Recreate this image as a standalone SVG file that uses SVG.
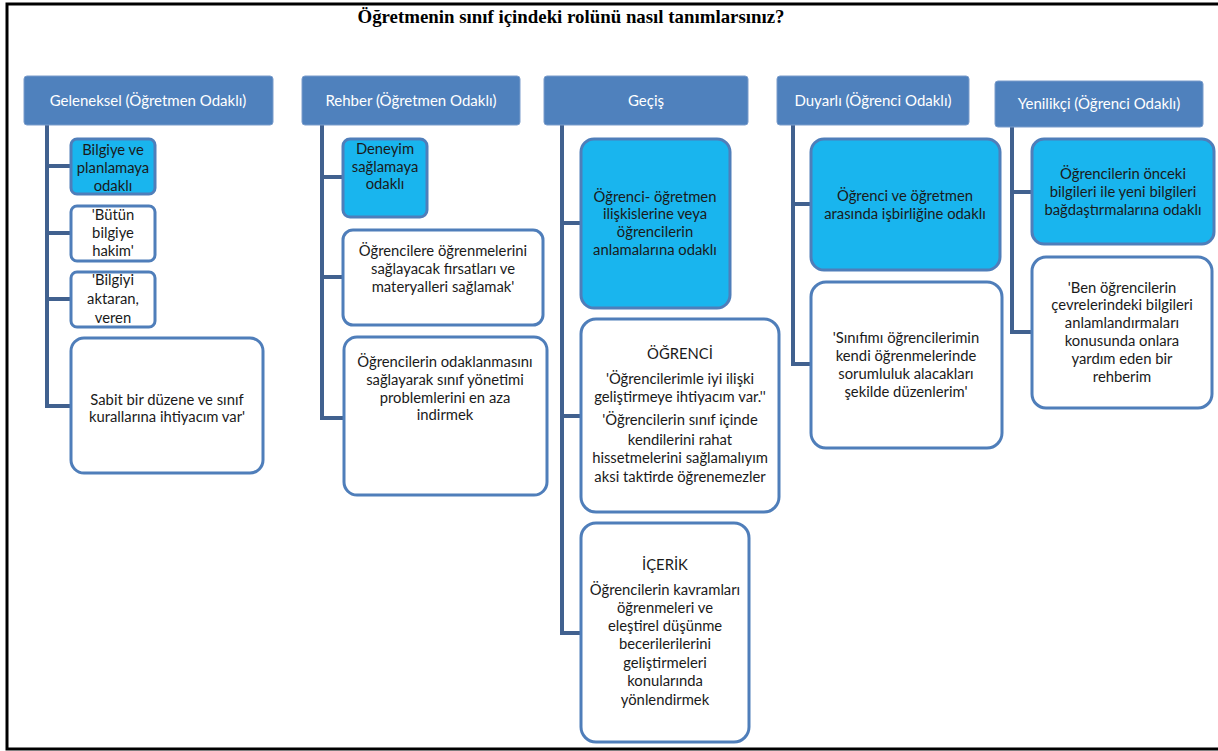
<svg xmlns="http://www.w3.org/2000/svg" width="1218" height="751" viewBox="0 0 1218 751">
<style>
.hdr{fill:#4F81BD;stroke:#7A9CCB;stroke-width:1}
.ht{font-family:Lato,"Liberation Sans",sans-serif;font-size:15px;fill:#fff;text-anchor:middle}
.cy{fill:#19B5EE;stroke:#4F7EBA;stroke-width:3}
.wb{fill:#fff;stroke:#4F7EBA;stroke-width:3}
.t{font-family:Lato,"Liberation Sans",sans-serif;font-size:14.8px;fill:#1a1a1a;text-anchor:middle}
.con{fill:none;stroke:#41618F;stroke-width:4;stroke-linejoin:miter}
</style>
<rect width="1218" height="751" fill="#fff"/>
<path d="M1218 4 H7 V749 H1218" fill="none" stroke="#000" stroke-width="3"/>
<text x="571" y="23" font-family="'Liberation Serif',serif" font-weight="bold" font-size="19" text-anchor="middle" fill="#000" textLength="427" lengthAdjust="spacingAndGlyphs">Öğretmenin sınıf içindeki rolünü nasıl tanımlarsınız?</text>

<g id="connectors">
<path class="con" d="M47 125 V406 H71 M47 166 H71 M47 233 H71 M47 299 H71"/>
<path class="con" d="M322 125 V418 H344 M322 177 H343 M322 277 H343"/>
<path class="con" d="M562 125 V633 H581 M562 223 H581 M562 416 H581"/>
<path class="con" d="M793 125 V364 H811 M793 204 H811"/>
<path class="con" d="M1012 127 V332 H1032 M1012 192 H1032"/>
</g>

<g id="h1"><rect class="hdr" x="24" y="76" width="249" height="49" rx="3"/><text class="ht" x="148" y="106">Geleneksel (Öğretmen Odaklı)</text></g>
<g id="h2"><rect class="hdr" x="302" y="76" width="218" height="49" rx="3"/><text class="ht" x="411" y="106">Rehber (Öğretmen Odaklı)</text></g>
<g id="h3"><rect class="hdr" x="544" y="76" width="204" height="49" rx="3"/><text class="ht" x="646" y="106">Geçiş</text></g>
<g id="h4"><rect class="hdr" x="777" y="76" width="192" height="49" rx="3"/><text class="ht" x="873" y="106">Duyarlı (Öğrenci Odaklı)</text></g>
<g id="h5"><rect class="hdr" x="995" y="81" width="208" height="46" rx="3"/><text class="ht" x="1099" y="109">Yenilikçi (Öğrenci Odaklı)</text></g>

<g id="c1a"><rect class="cy" x="71" y="139" width="84" height="55" rx="6"/><text class="t"><tspan x="113" y="155">Bilgiye ve</tspan><tspan x="113" y="173">planlamaya</tspan><tspan x="113" y="191">odaklı</tspan></text></g>
<g id="c1b"><rect class="wb" x="71" y="206" width="84" height="55" rx="6"/><text class="t"><tspan x="113" y="220">'Bütün</tspan><tspan x="113" y="238">bilgiye</tspan><tspan x="113" y="256">hakim'</tspan></text></g>
<g id="c1c"><rect class="wb" x="71" y="272" width="84" height="55" rx="6"/><text class="t"><tspan x="113" y="285">'Bilgiyi</tspan><tspan x="113" y="304">aktaran,</tspan><tspan x="113" y="323">veren</tspan></text></g>
<g id="c1d"><rect class="wb" x="71" y="338" width="192" height="135" rx="13"/><text class="t"><tspan x="167" y="405">Sabit bir düzene ve sınıf</tspan><tspan x="167" y="422">kurallarına ihtiyacım var'</tspan></text></g>

<g id="c2a"><rect class="cy" x="343" y="139" width="84" height="78" rx="7"/><text class="t"><tspan x="385" y="154">Deneyim</tspan><tspan x="385" y="172">sağlamaya</tspan><tspan x="385" y="189">odaklı</tspan></text></g>
<g id="c2b"><rect class="wb" x="343" y="230" width="200" height="95" rx="10"/><text class="t"><tspan x="443" y="256">Öğrencilere öğrenmelerini</tspan><tspan x="443" y="274">sağlayacak fırsatları ve</tspan><tspan x="443" y="292">materyalleri sağlamak'</tspan></text></g>
<g id="c2c"><rect class="wb" x="344" y="337" width="203" height="158" rx="13"/><text class="t"><tspan x="445" y="367">Öğrencilerin odaklanmasını</tspan><tspan x="445" y="385">sağlayarak sınıf yönetimi</tspan><tspan x="445" y="403">problemlerini en aza</tspan><tspan x="445" y="420">indirmek</tspan></text></g>

<g id="c3a"><rect class="cy" x="581" y="139" width="149" height="169" rx="13"/><text class="t"><tspan x="655" y="202">Öğrenci- öğretmen</tspan><tspan x="655" y="219">ilişkislerine veya</tspan><tspan x="655" y="237">öğrencilerin</tspan><tspan x="655" y="255">anlamalarına odaklı</tspan></text></g>
<g id="c3b"><rect class="wb" x="581" y="319" width="198" height="193" rx="15"/><text class="t"><tspan x="680" y="359">ÖĞRENCİ</tspan><tspan x="680" y="384">'Öğrencilerimle iyi ilişki</tspan><tspan x="680" y="402">geliştirmeye ihtiyacım var.''</tspan><tspan x="680" y="425">'Öğrencilerin sınıf içinde</tspan><tspan x="680" y="445">kendilerini rahat</tspan><tspan x="680" y="463">hissetmelerini sağlamalıyım</tspan><tspan x="680" y="482">aksi taktirde öğrenemezler</tspan></text></g>
<g id="c3c"><rect class="wb" x="581" y="523" width="168" height="219" rx="15"/><text class="t"><tspan x="665" y="570">İÇERİK</tspan><tspan x="665" y="595">Öğrencilerin kavramları</tspan><tspan x="665" y="613">öğrenmeleri ve</tspan><tspan x="665" y="631">eleştirel düşünme</tspan><tspan x="665" y="649">becerilerilerini</tspan><tspan x="665" y="668">geliştirmeleri</tspan><tspan x="665" y="686">konularında</tspan><tspan x="665" y="705">yönlendirmek</tspan></text></g>

<g id="c4a"><rect class="cy" x="811" y="139" width="189" height="131" rx="13"/><text class="t"><tspan x="905" y="201">Öğrenci ve öğretmen</tspan><tspan x="905" y="219">arasında işbirliğine odaklı</tspan></text></g>
<g id="c4b"><rect class="wb" x="811" y="282" width="191" height="166" rx="15"/><text class="t"><tspan x="906" y="343">'Sınıfımı öğrencilerimin</tspan><tspan x="906" y="361">kendi öğrenmelerinde</tspan><tspan x="906" y="379">sorumluluk alacakları</tspan><tspan x="906" y="397">şekilde düzenlerim'</tspan></text></g>

<g id="c5a"><rect class="cy" x="1032" y="139" width="182" height="105" rx="12"/><text class="t"><tspan x="1123" y="179">Öğrencilerin önceki</tspan><tspan x="1123" y="197">bilgileri ile yeni bilgileri</tspan><tspan x="1123" y="215">bağdaştırmalarına odaklı</tspan></text></g>
<g id="c5b"><rect class="wb" x="1032" y="257" width="180" height="151" rx="14"/><text class="t"><tspan x="1122" y="293">'Ben öğrencilerin</tspan><tspan x="1122" y="310">çevrelerindeki bilgileri</tspan><tspan x="1122" y="328">anlamlandırmaları</tspan><tspan x="1122" y="346">konusunda onlara</tspan><tspan x="1122" y="364">yardım eden bir</tspan><tspan x="1122" y="382">rehberim</tspan></text></g>
</svg>
